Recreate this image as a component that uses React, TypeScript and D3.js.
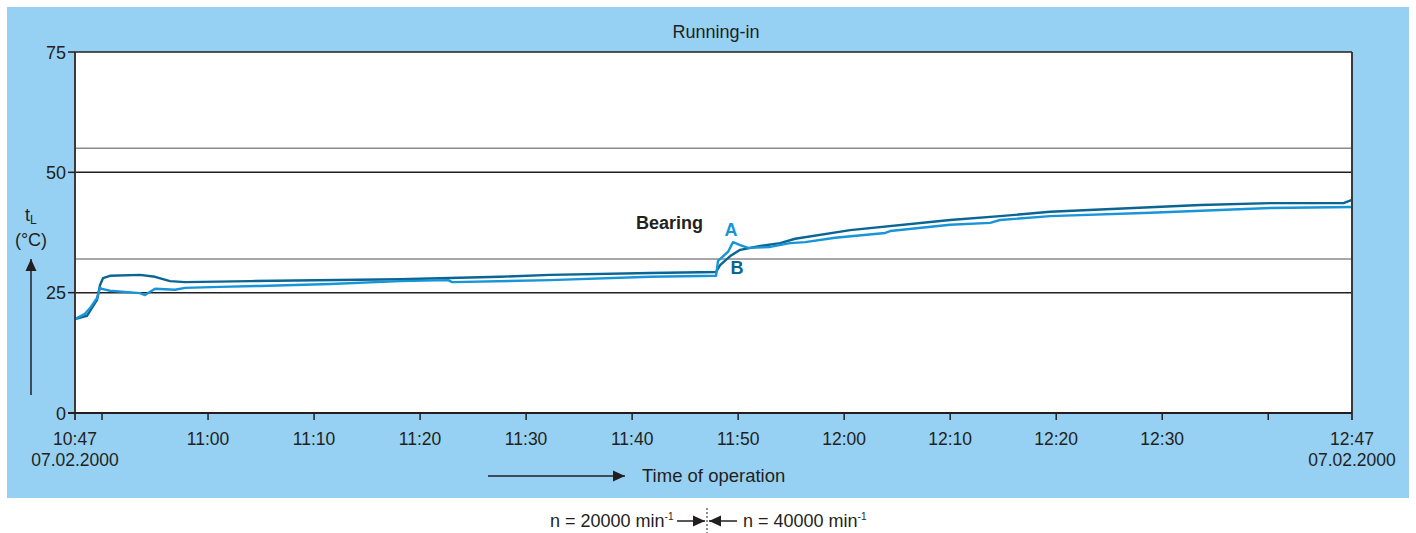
import React, { useEffect, useRef } from "react";
import * as d3 from "d3";

const W = 1416;
const H = 533;
const FONT = "'Liberation Sans', Arial, sans-serif";

// minutes after 10:47 on 07.02.2000, bearing temperature in °C
const bMinutes = [0.45, 1.58, 2.53, 2.81, 3.09, 3.75, 6.58, 8.0, 9.41, 10.83, 16.96, 31.11, 40.55, 45.26, 54.7, 60.92, 61.3, 62.25, 63.19, 65.08, 66.96, 68.38, 73.57, 82.99, 87.7, 92.43, 106.6, 113.2, 120.1, 120.9];
const bTemps = [19.5, 20.2, 23.5, 26.6, 28.0, 28.5, 28.7, 28.3, 27.4, 27.2, 27.4, 27.8, 28.3, 28.7, 29.1, 29.3, 30.7, 32.6, 33.9, 34.7, 35.3, 36.2, 38.0, 40.1, 40.9, 41.8, 43.2, 43.6, 43.6, 44.3];

const aMinutes = [0.45, 1.39, 1.87, 2.53, 2.81, 3.0, 3.75, 6.58, 7.05, 8.0, 9.88, 10.83, 14.13, 17.9, 24.5, 31.11, 35.64, 36.02, 45.26, 54.7, 60.92, 61.1, 62.05, 62.52, 63.19, 63.94, 66.02, 67.9, 69.32, 72.15, 76.87, 77.34, 82.99, 86.77, 87.7, 92.43, 101.9, 113.2, 120.9];
const aTemps = [19.5, 20.6, 21.8, 23.9, 26.0, 25.8, 25.4, 24.9, 24.5, 25.8, 25.6, 26.0, 26.2, 26.4, 26.8, 27.4, 27.6, 27.2, 27.6, 28.3, 28.5, 31.6, 33.5, 35.5, 34.9, 34.3, 34.5, 35.3, 35.5, 36.4, 37.4, 37.8, 39.1, 39.5, 40.1, 40.9, 41.6, 42.6, 42.8];

const yTicks = [0, 25, 50, 75];
const blackLines = [25, 50];
const grayLines = [32, 55];
const xTickMinutes = [3, 13, 23, 33, 43, 53, 63, 73, 83, 93, 103, 113];
const xTickLabels = ["", "11:00", "11:10", "11:20", "11:30", "11:40", "11:50", "12:00", "12:10", "12:20", "12:30", ""];
const startLabel = "10:47";
const endLabel = "12:47";
const dateLabel = "07.02.2000";

export default function App() {
  const svgRef = useRef<SVGSVGElement>(null);

  useEffect(() => {
    if (!svgRef.current) return;
    const svg = d3.select(svgRef.current);
    svg.selectAll("*").remove();

    const left = 75, right = 1352, top = 52, bottom = 413;
    const x = d3.scaleLinear().domain([0.45, 120.9]).range([left, right]);
    const y = d3.scaleLinear().domain([0, 75]).range([bottom, top]);
    const ink = "#231f20";

    const defs = svg.append("defs");
    defs.append("marker")
      .attr("id", "arrow")
      .attr("viewBox", "0 0 12 12")
      .attr("refX", 12).attr("refY", 6)
      .attr("markerWidth", 12).attr("markerHeight", 12)
      .attr("markerUnits", "userSpaceOnUse")
      .attr("orient", "auto")
      .append("path").attr("d", "M0,0.5 L12,6 L0,11.5 Z").attr("fill", ink);

    // blue panel
    svg.append("rect")
      .attr("x", 7).attr("y", 7).attr("width", 1402).attr("height", 491)
      .attr("fill", "#96d1f3");

    // plot area
    svg.append("rect")
      .attr("x", left).attr("y", top).attr("width", right - left).attr("height", bottom - top)
      .attr("fill", "#fff");

    svg.append("text")
      .attr("x", 716).attr("y", 38)
      .attr("text-anchor", "middle")
      .attr("font-family", FONT).attr("font-size", 18).attr("fill", ink)
      .text("Running-in");

    // reference lines
    grayLines.forEach((v) => {
      svg.append("line")
        .attr("x1", left).attr("x2", right).attr("y1", y(v)).attr("y2", y(v))
        .attr("stroke", "#8a8a8a").attr("stroke-width", 1.5);
    });
    blackLines.forEach((v) => {
      svg.append("line")
        .attr("x1", left).attr("x2", right).attr("y1", y(v)).attr("y2", y(v))
        .attr("stroke", ink).attr("stroke-width", 1.5);
    });

    // series
    const line = d3.line<[number, number]>()
      .x((d) => x(d[0]))
      .y((d) => y(d[1]));
    const bData = bMinutes.map((m, i) => [m, bTemps[i]] as [number, number]);
    const aData = aMinutes.map((m, i) => [m, aTemps[i]] as [number, number]);
    svg.append("path")
      .attr("d", line(bData) as string)
      .attr("fill", "none").attr("stroke", "#0a6593").attr("stroke-width", 2.4)
      .attr("stroke-linejoin", "round");
    svg.append("path")
      .attr("d", line(aData) as string)
      .attr("fill", "none").attr("stroke", "#1795d8").attr("stroke-width", 2.4)
      .attr("stroke-linejoin", "round");

    // frame
    svg.append("line").attr("x1", left).attr("x2", right).attr("y1", top).attr("y2", top)
      .attr("stroke", ink).attr("stroke-width", 1.5);
    svg.append("line").attr("x1", right).attr("x2", right).attr("y1", top).attr("y2", bottom + 7)
      .attr("stroke", "#3a3a3a").attr("stroke-width", 2);
    svg.append("line").attr("x1", left).attr("x2", left).attr("y1", top).attr("y2", bottom + 7)
      .attr("stroke", "#3a3a3a").attr("stroke-width", 2);
    svg.append("line").attr("x1", left - 7).attr("x2", right).attr("y1", bottom).attr("y2", bottom)
      .attr("stroke", ink).attr("stroke-width", 2);

    // y axis
    yTicks.forEach((v) => {
      svg.append("line")
        .attr("x1", left - 7).attr("x2", left).attr("y1", y(v)).attr("y2", y(v))
        .attr("stroke", ink).attr("stroke-width", 1.5);
      svg.append("text")
        .attr("x", left - 9).attr("y", y(v) + 6.5)
        .attr("text-anchor", "end")
        .attr("font-family", FONT).attr("font-size", 18).attr("fill", ink)
        .text(v);
    });

    // x axis
    xTickMinutes.forEach((m, i) => {
      svg.append("line")
        .attr("x1", x(m)).attr("x2", x(m)).attr("y1", bottom).attr("y2", bottom + 7)
        .attr("stroke", ink).attr("stroke-width", 1.5);
      if (xTickLabels[i]) {
        svg.append("text")
          .attr("x", x(m)).attr("y", bottom + 32)
          .attr("text-anchor", "middle")
          .attr("font-family", FONT).attr("font-size", 17.5).attr("fill", ink)
          .text(xTickLabels[i]);
      }
    });
    [[x.domain()[0], startLabel], [x.domain()[1], endLabel]].forEach(([m, lab]) => {
      const g = svg.append("text")
        .attr("text-anchor", "middle")
        .attr("font-family", FONT).attr("font-size", 17.5).attr("fill", ink);
      g.append("tspan").attr("x", x(m as number)).attr("y", bottom + 32).text(lab as string);
      g.append("tspan").attr("x", x(m as number)).attr("y", bottom + 53).text(dateLabel);
    });

    // y title
    const yt = svg.append("text")
      .attr("font-family", FONT).attr("font-size", 18).attr("fill", ink);
    yt.append("tspan").attr("x", 25).attr("y", 221).text("t");
    yt.append("tspan").attr("dy", 3).attr("font-size", 12).text("L");
    svg.append("text")
      .attr("x", 31).attr("y", 246)
      .attr("text-anchor", "middle")
      .attr("font-family", FONT).attr("font-size", 18).attr("fill", ink)
      .text("(°C)");
    svg.append("line")
      .attr("x1", 31).attr("x2", 31).attr("y1", 395).attr("y2", 259)
      .attr("stroke", ink).attr("stroke-width", 1.5)
      .attr("marker-end", "url(#arrow)");

    // x title
    svg.append("line")
      .attr("x1", 488).attr("x2", 625).attr("y1", 476).attr("y2", 476)
      .attr("stroke", ink).attr("stroke-width", 1.5)
      .attr("marker-end", "url(#arrow)");
    svg.append("text")
      .attr("x", 642).attr("y", 482)
      .attr("font-family", FONT).attr("font-size", 18.5).attr("fill", ink)
      .text("Time of operation");

    // annotations
    svg.append("text")
      .attr("x", 636).attr("y", 229)
      .attr("font-family", FONT).attr("font-size", 18).attr("font-weight", "bold").attr("fill", ink)
      .text("Bearing");
    svg.append("text")
      .attr("x", 731).attr("y", 236)
      .attr("text-anchor", "middle")
      .attr("font-family", FONT).attr("font-size", 18).attr("font-weight", "bold").attr("fill", "#1795d8")
      .text("A");
    svg.append("text")
      .attr("x", 737).attr("y", 274)
      .attr("text-anchor", "middle")
      .attr("font-family", FONT).attr("font-size", 18).attr("font-weight", "bold").attr("fill", "#0a6593")
      .text("B");

    // speed change note
    const n1 = svg.append("text")
      .attr("x", 550).attr("y", 527)
      .attr("font-family", FONT).attr("font-size", 18).attr("fill", ink);
    n1.append("tspan").text("n = 20000 min");
    n1.append("tspan").attr("dy", -7).attr("font-size", 10).text("-1");
    svg.append("line")
      .attr("x1", 677).attr("x2", 705).attr("y1", 521).attr("y2", 521)
      .attr("stroke", ink).attr("stroke-width", 1.5)
      .attr("marker-end", "url(#arrow)");
    svg.append("line")
      .attr("x1", 707).attr("x2", 707).attr("y1", 508).attr("y2", 533)
      .attr("stroke", ink).attr("stroke-width", 1).attr("stroke-dasharray", "2,2");
    svg.append("line")
      .attr("x1", 737).attr("x2", 709).attr("y1", 521).attr("y2", 521)
      .attr("stroke", ink).attr("stroke-width", 1.5)
      .attr("marker-end", "url(#arrow)");
    const n2 = svg.append("text")
      .attr("x", 743).attr("y", 527)
      .attr("font-family", FONT).attr("font-size", 18).attr("fill", ink);
    n2.append("tspan").text("n = 40000 min");
    n2.append("tspan").attr("dy", -7).attr("font-size", 10).text("-1");
  }, []);

  return (
    <svg
      ref={svgRef}
      width={W}
      height={H}
      style={{ position: "absolute", left: 0, top: 0, background: "#fff" }}
    />
  );
}
